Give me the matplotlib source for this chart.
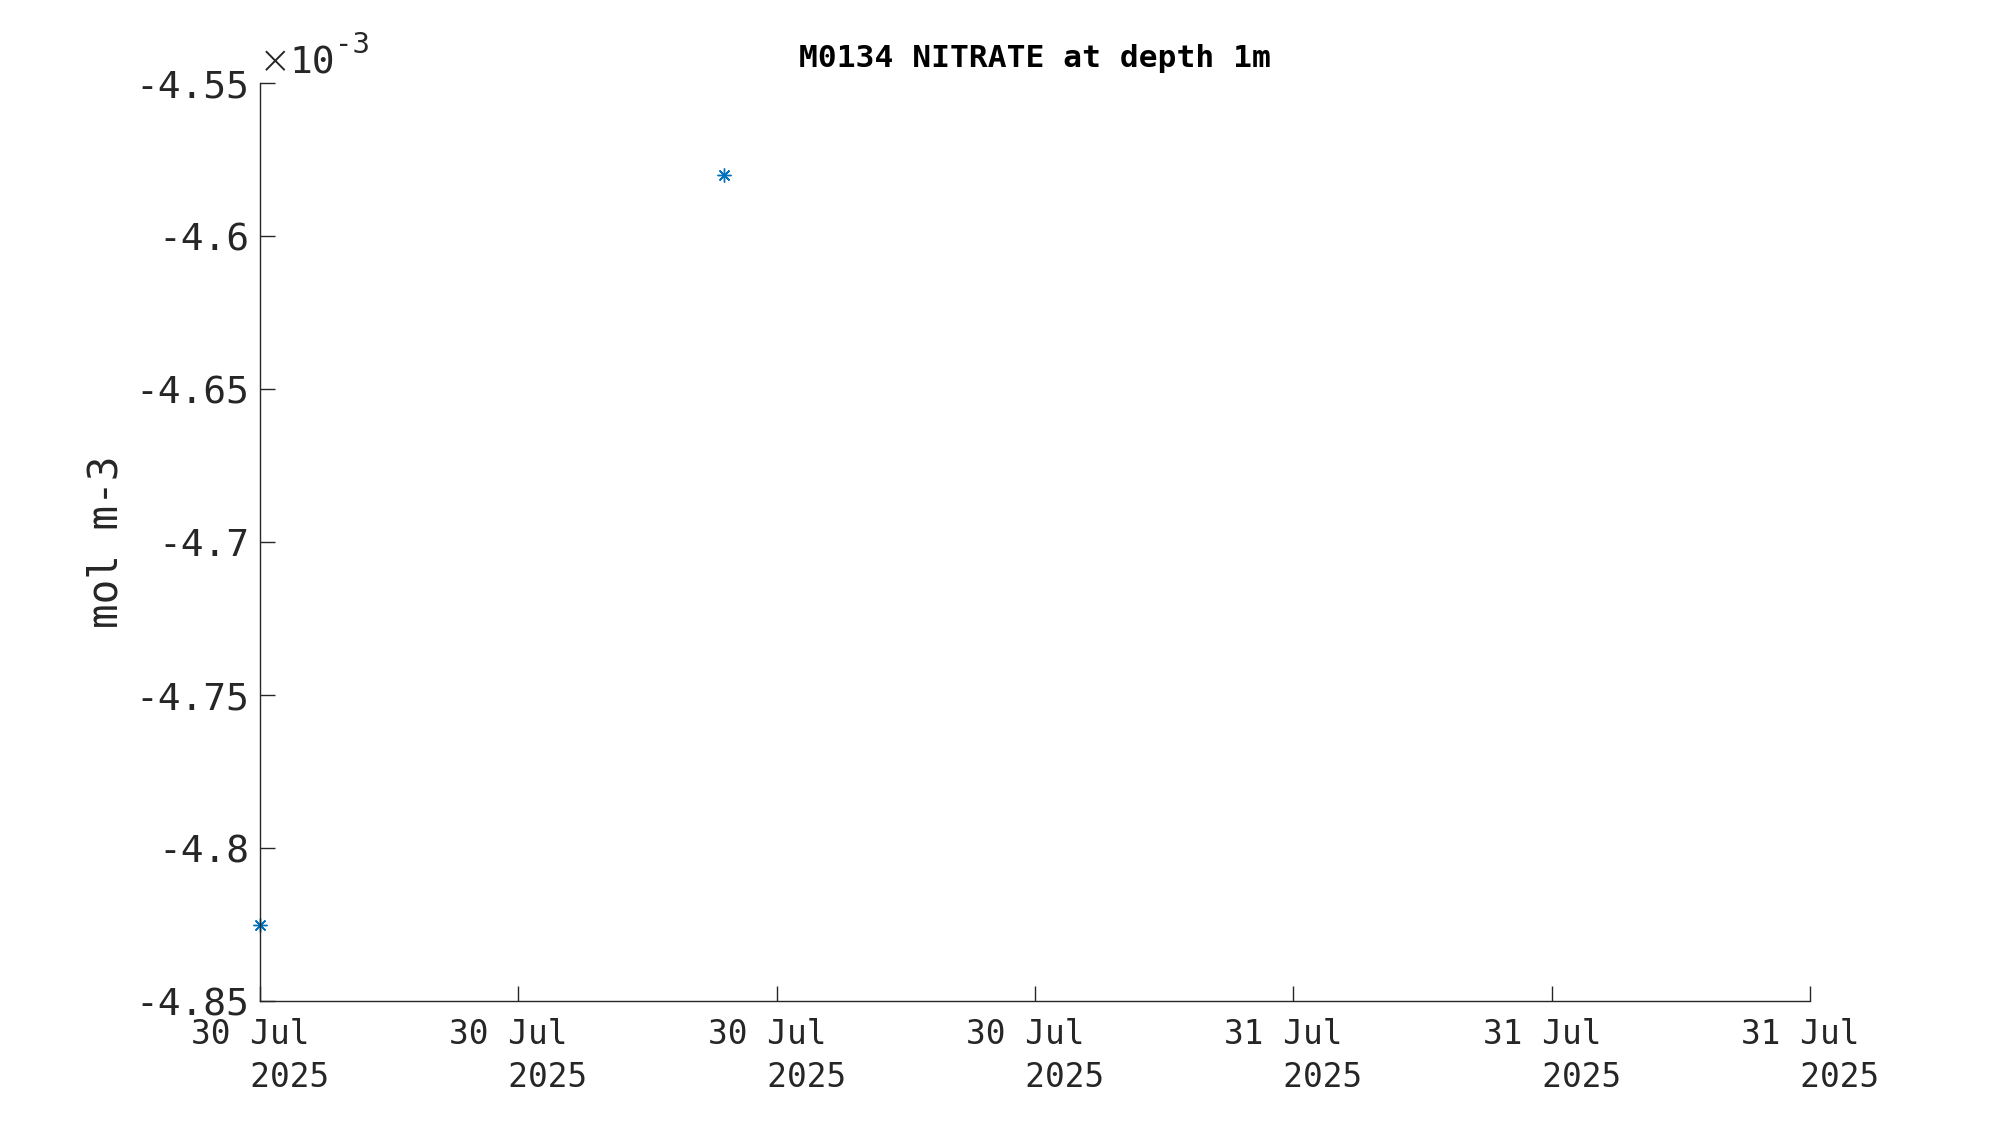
import matplotlib
matplotlib.use("Agg")
import matplotlib.pyplot as plt
import numpy as np
from datetime import datetime

# data
times = [datetime(2025, 7, 30, 0, 0), datetime(2025, 7, 30, 10, 47)]
nitrate = [-4.825e-3, -4.580e-3]

tick_times = [datetime(2025, 7, 30, 0), datetime(2025, 7, 30, 6), datetime(2025, 7, 30, 12),
              datetime(2025, 7, 30, 18), datetime(2025, 7, 31, 0), datetime(2025, 7, 31, 6),
              datetime(2025, 7, 31, 12)]
y_ticks = [-4.85, -4.8, -4.75, -4.7, -4.65, -4.6, -4.55]

plt.rcParams['font.family'] = 'DejaVu Sans Mono'
dark = '#262626'

fig = plt.figure(figsize=(20, 11.25), dpi=100)
ax = fig.add_axes([0.130, 0.110, 0.775, 0.816])

ax.plot(times, np.array(nitrate) * 1e3, linestyle='none', marker=(8, 2, 0),
        markersize=10, markeredgewidth=1.0, color='#0072BD', clip_on=False)

ax.set_xlim(tick_times[0], tick_times[-1])
ax.set_ylim(-4.85, -4.55)
ax.set_xticks(tick_times)
ax.set_xticklabels([t.strftime('%d %b') + '\n   ' + t.strftime('%Y') for t in tick_times],
                   fontsize=23.6, color=dark, linespacing=1.4, multialignment='left')
ax.set_yticks(y_ticks)
ax.set_yticklabels([f'{v:g}' for v in y_ticks], fontsize=27.3, color=dark)

for s in ['top', 'right']:
    ax.spines[s].set_visible(False)
for s in ['left', 'bottom']:
    ax.spines[s].set_color(dark)
    ax.spines[s].set_linewidth(1.0)
ax.tick_params(axis='both', direction='in', length=11, width=1.0, color=dark)
ax.tick_params(axis='x', pad=12)
ax.tick_params(axis='y', pad=8)

# exponent label, MATLAB style
ax.annotate('\u00d7', xy=(0, 1), xycoords='axes fraction', xytext=(-1, 7),
            textcoords='offset points', fontsize=28, color=dark, ha='left', va='baseline',
            family='DejaVu Sans', fontweight='light')
ax.annotate('10', xy=(0, 1), xycoords='axes fraction', xytext=(21, 7),
            textcoords='offset points', fontsize=27.3, color=dark, ha='left', va='baseline')
ax.annotate('-3', xy=(0, 1), xycoords='axes fraction', xytext=(54, 22),
            textcoords='offset points', fontsize=21, color=dark, ha='left', va='baseline')

ax.set_ylabel('mol m-3', fontsize=29.5, color=dark, labelpad=6)
ax.set_title('M0134 NITRATE at depth 1m', fontsize=22.5, fontweight='bold', pad=12)

fig.savefig('out.png', dpi=100, facecolor='white')
